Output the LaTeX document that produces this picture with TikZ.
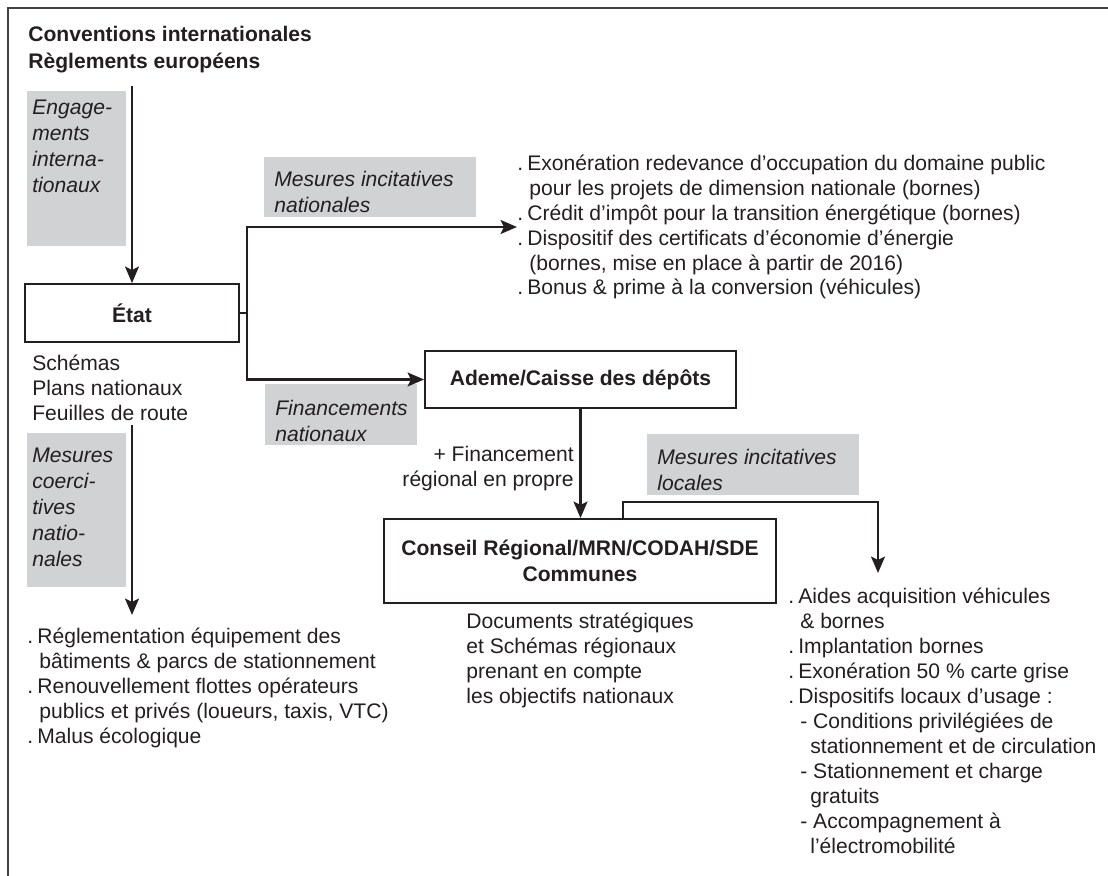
\documentclass[tikz,border=0pt]{standalone}
\usepackage{fontspec}
\setmainfont{Liberation Sans}
\usetikzlibrary{arrows.meta}
\definecolor{tagfill}{RGB}{209,210,212}
\definecolor{ink}{RGB}{35,31,32}
\newcommand{\dotitem}{\makebox[0.2cm][l]{.}}
\newcommand{\contline}{\hspace*{0.24cm}}
\newcommand{\subcont}{\hspace*{0.44cm}}

\begin{document}
\begin{tikzpicture}[
        every node/.style={inner sep=0pt, text=ink},
        box/.style={draw=ink, line width=1.1pt, font=\fontsize{12}{15}\selectfont\bfseries, align=center},
        tag/.style={font=\fontsize{12}{14.8}\selectfont\itshape, align=left, anchor=north west},
        txt/.style={font=\fontsize{12}{14.2}\selectfont, align=left},
        arr/.style={draw=ink, line width=1.2pt, -{Stealth[length=3.3mm,width=2.8mm,inset=0.7mm]}},
        wire/.style={draw=ink, line width=1.2pt}
    ]
        % frame
        \useasboundingbox (0,0) rectangle (22.16,-17.52);
        \draw[ink!85, line width=1pt] (0.16,-17.52) -- (0.16,-0.16) -- (22.16,-0.16);
        % grey bands
        \fill[tagfill] (0.54,-1.82) rectangle (2.52,-4.92);
        \fill[tagfill] (5.28,-3.14) rectangle (9.52,-4.34);
        \fill[tagfill] (5.30,-7.68) rectangle (8.34,-8.90);
        \fill[tagfill] (0.54,-8.66) rectangle (2.52,-11.74);
        \fill[tagfill] (12.94,-8.68) rectangle (17.18,-9.90);
        % labels in the bands
        \node[tag] (engage) at (0.64,-1.99) {Engage-\\ments\\interna-\\tionaux};
        \node[tag] (incit) at (5.48,-3.41) {Mesures incitatives\\nationales};
        \node[tag] (fin) at (5.50,-7.99) {Financements\\nationaux};
        \node[tag] (coer) at (0.64,-8.95) {Mesures\\coerci-\\tives\\natio-\\nales};
        \node[tag] (locales) at (13.14,-8.97) {Mesures incitatives\\locales};
        % boxes
        \node[txt, anchor=west, font=\fontsize{12}{15.4}\selectfont\bfseries] (conv) at (0.56,-1.0) {Conventions internationales\\Règlements européens};
        \node[box, minimum width=4.28cm, minimum height=1.16cm] (etat) at (2.64,-6.26) {État};
        \node[box, minimum width=6.22cm, minimum height=1.14cm] (ademe) at (11.61,-7.59) {Ademe/Caisse des dépôts};
        \node[box, minimum width=7.84cm, minimum height=1.68cm] (conseil) at (11.60,-11.22) {Conseil Régional/MRN/CODAH/SDE\\Communes};
        % text
        \node[txt, anchor=west] (schemas) at (0.64,-7.75) {Schémas\\Plans nationaux\\Feuilles de route};
        \node[txt, anchor=west] (natlist) at (10.34,-4.54) {\dotitem Exonération redevance d’occupation du domaine public\\
            \contline pour les projets de dimension nationale (bornes)\\
            \dotitem Crédit d’impôt pour la transition énergétique (bornes)\\
            \dotitem Dispositif des certificats d’économie d’énergie\\
            \contline (bornes, mise en place à partir de 2016)\\
            \dotitem Bonus \& prime à la conversion (véhicules)};
        \node[txt, anchor=east, align=right] (finreg) at (11.48,-9.38) {+ Financement\\régional en propre};
        \node[txt, anchor=west] (reglist) at (0.54,-13.76) {\dotitem Réglementation équipement des\\
            \contline bâtiments \& parcs de stationnement\\
            \dotitem Renouvellement flottes opérateurs\\
            \contline publics et privés (loueurs, taxis, VTC)\\
            \dotitem Malus écologique};
        \node[txt, anchor=west] (docs) at (9.32,-13.2) {Documents stratégiques\\et Schémas régionaux\\prenant en compte\\les objectifs nationaux};
        \node[txt, anchor=west] (loclist) at (15.76,-14.42) {\dotitem Aides acquisition véhicules\\
            \contline \& bornes\\
            \dotitem Implantation bornes\\
            \dotitem Exonération 50~\% carte grise\\
            \dotitem Dispositifs locaux d’usage~:\\
            \contline - Conditions privilégiées de\\
            \subcont stationnement et de circulation\\
            \contline - Stationnement et charge\\
            \subcont gratuits\\
            \contline - Accompagnement à\\
            \subcont l’électromobilité};
        % arrows
        \coordinate (convout) at (2.64,-1.72);
        \coordinate (split) at (4.94,-6.26);
        \coordinate (coertop) at (2.64,-8.5);
        \coordinate (coerbot) at (2.64,-12.3);
        \coordinate (loctip) at (17.56,-11.46);
        \draw[arr] (convout) -- (etat.north);
        \draw[wire] (etat.east) -- (split);
        \draw[arr] (split) |- (natlist.west);
        \draw[arr] (split) |- (ademe.west);
        \draw[arr] (ademe.south) -- (ademe.south |- conseil.north);
        \draw[arr] ([xshift=0.86cm]conseil.north) -- ++(0,0.32) -| (loctip);
        \draw[arr] (coertop) -- (coerbot);
\end{tikzpicture}
\end{document}
